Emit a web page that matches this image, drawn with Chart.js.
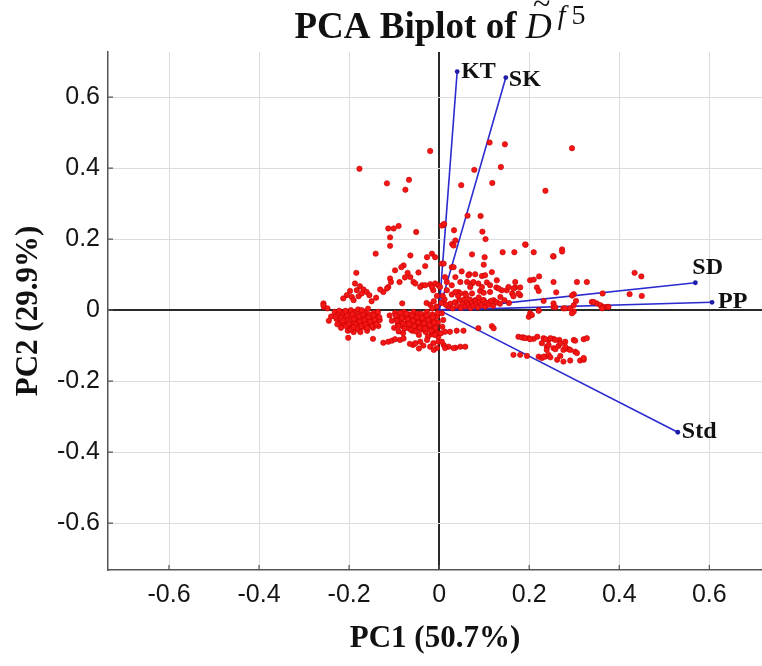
<!DOCTYPE html>
<html>
<head>
<meta charset="utf-8">
<script src="https://cdn.jsdelivr.net/npm/chart.js@4.4.1/dist/chart.umd.min.js"></script>
<style>
  html, body { margin: 0; padding: 0; background: #fff; }
</style>
</head>
<body>
<canvas id="biplot" width="762" height="666"></canvas>
<script>
// observation scores on PC1 / PC2
const scores = [
  [-0.020,0.448],[-0.177,0.398],[-0.116,0.357],[-0.067,0.367],[-0.075,0.339],[-0.113,0.230],[-0.101,0.230],
  [-0.090,0.237],[-0.051,0.220],[-0.109,0.205],[-0.109,0.181],[0.010,0.240],[0.006,0.238],
  [0.112,0.472],[0.146,0.467],[0.295,0.456],[0.078,0.395],[0.137,0.403],[0.049,0.352],[0.118,0.358],
  [0.236,0.336],[0.063,0.266],[0.092,0.265],[0.011,0.243],[0.033,0.225],[0.096,0.221],[0.103,0.200],
  [0.029,0.186],[0.036,0.196],[0.192,0.184],[0.273,0.171],
  [-0.141,0.159],[-0.064,0.154],[-0.016,0.159],[-0.027,0.149],[-0.079,0.126],[-0.084,0.121],[-0.031,0.124],
  [-0.098,0.112],[-0.070,0.105],[-0.046,0.106],[-0.184,0.105],[-0.076,0.092],[-0.064,0.093],[-0.057,0.079],
  [-0.109,0.089],[-0.107,0.079],[-0.113,0.065],[-0.116,0.061],[-0.124,0.051],[-0.131,0.058],[-0.088,0.079],
  [-0.038,0.070],[-0.020,0.073],[-0.013,0.056],[-0.042,0.065],[-0.031,0.070],[-0.053,0.075],
  [-0.009,0.075],[-0.002,0.070],[-0.016,0.065],[0.006,0.131],[-0.009,0.149],[0.028,0.121],[0.013,0.093],
  [0.017,0.079],[0.002,0.065],
  [-0.187,0.075],[-0.176,0.067],[-0.168,0.058],[-0.183,0.056],[-0.198,0.054],[-0.161,0.051],[-0.205,0.042],
  [-0.194,0.037],[-0.179,0.039],[-0.213,0.033],[-0.190,0.028],[-0.172,0.047],[-0.155,0.042],[-0.150,0.025],
  [-0.140,0.035],[-0.082,0.019],[-0.257,0.019],[-0.256,0.009],[-0.257,0.014],
  [-0.020,0.015],[-0.012,0.025],[-0.006,0.010],[-0.015,0.005],[-0.028,0.020],[-0.005,0.040],
  [0.073,0.157],[0.101,0.149],[0.141,0.163],[0.167,0.163],[0.210,0.163],[0.254,0.151],[0.099,0.128],
  [0.050,0.109],[0.117,0.107],[0.067,0.101],[0.080,0.101],[0.095,0.096],[0.062,0.079],[0.073,0.075],
  [0.069,0.065],[0.106,0.078],[0.202,0.084],[0.210,0.086],[0.222,0.095],[0.169,0.064],[0.180,0.064],
  [0.127,0.064],[0.150,0.056],[0.217,0.064],[0.221,0.054],[0.028,0.070],[0.043,0.051],[0.058,0.047],
  [0.073,0.047],[0.091,0.054],[0.099,0.049],[0.113,0.051],[0.028,0.044],[0.017,0.056],[0.162,0.047],
  [0.180,0.042],[0.080,0.028],[0.099,0.028],[0.113,0.023],[0.121,0.028],[0.032,0.182],[0.010,0.131],
  [0.032,0.121],[0.036,0.093],[0.047,0.079],[0.076,0.079],[0.095,0.065],[0.113,0.070],[0.128,0.084],
  [0.139,0.056],[0.154,0.065],[0.165,0.061],[0.169,0.079],[0.065,0.098],[0.102,0.098],[0.087,0.075],
  [0.132,0.061],[0.136,0.037],[0.165,0.039],[0.176,0.047],[0.036,0.051],[0.047,0.047],
  [0.020,0.010],[0.025,0.018],[0.030,0.005],[0.035,0.022],[0.040,0.012],[0.045,0.028],[0.048,0.006],
  [0.052,0.018],[0.055,0.030],[0.058,0.010],[0.062,0.022],[0.065,0.014],[0.068,0.030],[0.070,0.006],
  [0.073,0.020],[0.076,0.012],[0.080,0.026],[0.083,0.017],[0.086,0.008],[0.090,0.022],[0.094,0.014],
  [0.098,0.028],[0.102,0.010],[0.106,0.020],[0.110,0.015],[0.115,0.026],[0.120,0.012],[0.128,0.022],
  [0.135,0.018],[0.145,0.028],[0.155,0.020],[0.042,0.040],[0.060,0.042],[0.088,0.036],[0.012,0.030],
  [0.015,0.015],[0.005,0.020],[0.008,0.040],
  [0.202,-0.009],[0.199,-0.019],[0.206,-0.014],[0.221,0.000],[0.299,-0.004],[0.295,-0.009],[0.276,0.005],
  [0.254,0.009],[0.221,-0.002],[0.280,0.005],[0.291,0.005],[0.299,0.014],[0.254,0.019],[0.258,0.008],
  [0.232,0.026],[0.304,0.026],[0.339,0.023],[0.350,0.019],[0.358,0.014],[0.365,0.009],[0.373,0.009],
  [0.362,0.005],[0.376,0.009],[0.343,0.023],
  [0.434,0.105],[0.449,0.095],[0.423,0.045],[0.450,0.040],[0.363,0.047],[0.306,0.079],[0.328,0.079],
  [0.254,0.079],[0.260,0.050],[0.299,0.045],[0.295,0.041],[0.253,0.152],[0.273,0.165],[0.191,0.185],
  // left cluster below PC1 axis
  [-0.232,-0.005],[-0.225,-0.012],[-0.228,-0.025],[-0.220,-0.035],[-0.215,-0.008],[-0.210,-0.020],
  [-0.212,-0.042],[-0.205,-0.030],[-0.200,-0.010],[-0.198,-0.048],[-0.195,-0.022],[-0.192,-0.035],
  [-0.188,-0.005],[-0.185,-0.015],[-0.183,-0.028],[-0.180,-0.045],[-0.178,-0.055],[-0.175,-0.010],
  [-0.172,-0.022],[-0.170,-0.035],[-0.168,-0.048],[-0.165,-0.005],[-0.162,-0.018],[-0.160,-0.030],
  [-0.158,-0.042],[-0.155,-0.012],[-0.152,-0.025],[-0.150,-0.038],[-0.147,-0.050],[-0.145,-0.008],
  [-0.142,-0.020],[-0.140,-0.032],[-0.137,-0.015],[-0.135,-0.045],[-0.132,-0.028],[-0.218,-0.050],
  [-0.203,-0.058],[-0.190,-0.062],[-0.175,-0.062],[-0.160,-0.058],[-0.222,-0.002],[-0.196,0.000],
  [-0.180,0.002],[-0.158,0.004],[-0.240,-0.018],[-0.245,-0.030],[-0.248,0.005],
  [-0.230,-0.018],[-0.226,-0.040],[-0.218,-0.022],[-0.214,-0.030],[-0.207,-0.045],[-0.204,-0.015],
  [-0.200,-0.038],[-0.196,-0.055],[-0.193,-0.012],[-0.189,-0.025],[-0.186,-0.040],[-0.182,-0.052],
  [-0.178,-0.018],[-0.176,-0.032],[-0.173,-0.045],[-0.169,-0.012],[-0.166,-0.028],[-0.163,-0.040],
  [-0.160,-0.050],[-0.157,-0.020],[-0.153,-0.033],[-0.149,-0.045],[-0.146,-0.015],[-0.143,-0.028],
  [-0.139,-0.040],[-0.136,-0.005],[-0.133,-0.020],[-0.208,-0.002],[-0.172,0.000],[-0.190,-0.048],
  // middle cluster below PC1 axis
  [-0.098,-0.008],[-0.095,-0.022],[-0.092,-0.038],[-0.088,-0.015],[-0.085,-0.030],[-0.082,-0.045],
  [-0.078,-0.005],[-0.075,-0.020],[-0.072,-0.035],[-0.070,-0.050],[-0.068,-0.012],[-0.065,-0.028],
  [-0.062,-0.042],[-0.060,-0.058],[-0.057,-0.005],[-0.055,-0.018],[-0.052,-0.032],[-0.050,-0.048],
  [-0.047,-0.010],[-0.045,-0.025],[-0.042,-0.040],[-0.040,-0.055],[-0.037,-0.015],[-0.035,-0.030],
  [-0.032,-0.045],[-0.030,-0.062],[-0.027,-0.005],[-0.025,-0.020],[-0.022,-0.035],[-0.020,-0.050],
  [-0.017,-0.068],[-0.015,-0.012],[-0.012,-0.028],[-0.010,-0.042],[-0.008,-0.058],[-0.005,-0.018],
  [-0.003,-0.035],[-0.002,-0.075],[-0.105,-0.030],[-0.110,-0.015],[-0.100,-0.050],[-0.090,-0.060],
  [-0.080,-0.065],[-0.025,-0.075],[-0.045,-0.070],
  [-0.096,-0.015],[-0.093,-0.030],[-0.090,-0.045],[-0.086,-0.008],[-0.083,-0.022],[-0.080,-0.038],
  [-0.077,-0.052],[-0.073,-0.010],[-0.070,-0.025],[-0.067,-0.040],[-0.063,-0.055],[-0.060,-0.015],
  [-0.058,-0.030],[-0.055,-0.045],[-0.052,-0.060],[-0.049,-0.020],[-0.046,-0.035],[-0.043,-0.050],
  [-0.040,-0.010],[-0.038,-0.022],[-0.034,-0.038],[-0.031,-0.052],[-0.028,-0.015],[-0.024,-0.028],
  [-0.021,-0.042],[-0.018,-0.058],[-0.014,-0.020],[-0.011,-0.035],[-0.008,-0.050],[-0.005,-0.065],
  [-0.003,-0.008],[-0.010,-0.070],
  [-0.202,-0.078],[-0.147,-0.081],[-0.124,-0.092],[-0.113,-0.089],[-0.105,-0.086],[-0.098,-0.082],
  [-0.087,-0.084],[-0.079,-0.080],[-0.058,-0.098],[-0.053,-0.093],[-0.042,-0.089],[-0.027,-0.084],
  [-0.013,-0.093],[-0.002,-0.089],[0.010,-0.098],[-0.020,-0.103],[-0.005,-0.107],[-0.035,-0.100],
  [-0.065,-0.095],[-0.045,-0.108],[-0.012,-0.112],
  [0.006,-0.009],[0.009,-0.028],[0.007,-0.047],[0.004,-0.065],[0.013,-0.061],[0.024,-0.061],[0.039,-0.058],
  [0.054,-0.058],[0.021,-0.103],[0.036,-0.106],[0.047,-0.103],[0.058,-0.103],[0.013,-0.107],[0.006,-0.089],
  [0.087,-0.051],[0.117,-0.045],[0.121,-0.051],[0.032,-0.107],
  // right cluster below PC1 axis
  [0.176,-0.075],[0.187,-0.077],[0.199,-0.079],[0.210,-0.081],[0.218,-0.075],[0.184,-0.077],[0.191,-0.079],
  [0.202,-0.082],[0.232,-0.079],[0.243,-0.084],[0.254,-0.081],[0.267,-0.084],[0.280,-0.089],[0.299,-0.084],
  [0.321,-0.082],[0.328,-0.079],[0.239,-0.103],[0.254,-0.107],[0.265,-0.101],[0.276,-0.112],[0.287,-0.110],
  [0.302,-0.117],[0.165,-0.126],[0.180,-0.126],[0.195,-0.129],[0.221,-0.131],[0.228,-0.135],[0.236,-0.131],
  [0.243,-0.126],[0.262,-0.140],[0.276,-0.145],[0.291,-0.142],[0.313,-0.142],[0.321,-0.140],
  [0.236,-0.082],[0.247,-0.079],[0.258,-0.084],[0.228,-0.093],[0.243,-0.098],[0.269,-0.093],[0.280,-0.103],
  [0.302,-0.086],[0.239,-0.112],[0.258,-0.110],[0.291,-0.112],[0.232,-0.131],[0.247,-0.133],[0.269,-0.129],
  [0.306,-0.121],[0.321,-0.135]
];

// variable loadings
const variables = ['KT', 'SK', 'SD', 'PP', 'Std'];
const loadingsPC1 = [0.040, 0.148, 0.569, 0.606, 0.530];
const loadingsPC2 = [0.672, 0.655, 0.077, 0.022, -0.344];

const xTickValues = [-0.6, -0.4, -0.2, 0, 0.2, 0.4, 0.6];
const yTickValues = [-0.6, -0.4, -0.2, 0, 0.2, 0.4, 0.6];

const vectorColor = '#2b2bd0';

const datasets = [{
  label: 'scores',
  data: scores.map(p => ({ x: p[0], y: p[1] })),
  pointRadius: 2.7,
  pointBackgroundColor: '#f51616',
  pointBorderColor: '#c40000',
  pointBorderWidth: 0.6,
  showLine: false
}];

variables.forEach((name, i) => {
  datasets.push({
    label: name,
    data: [{ x: 0, y: 0 }, { x: loadingsPC1[i], y: loadingsPC2[i] }],
    showLine: true,
    borderColor: vectorColor,
    borderWidth: 1.6,
    pointRadius: [0, 2.4],
    pointBackgroundColor: '#1c1ca8',
    pointBorderWidth: 0
  });
});

// label offsets for the vector tips
const tipLabel = {
  KT:  { dx: 4,  dy: 0,   align: 'left' },
  SK:  { dx: 3,  dy: 2,   align: 'left' },
  SD:  { dx: -3, dy: -15, align: 'left' },
  PP:  { dx: 6,  dy: -1,  align: 'left' },
  Std: { dx: 4,  dy: 0,   align: 'left' }
};

const biplotText = {
  id: 'biplotText',
  beforeDatasetsDraw(chart) {
    // short inward tick marks on the left and bottom axes
    const c = chart.ctx;
    const { left, bottom } = chart.chartArea;
    c.save();
    c.strokeStyle = '#555';
    c.lineWidth = 1.2;
    c.beginPath();
    xTickValues.forEach(v => {
      const px = chart.scales.x.getPixelForValue(v);
      c.moveTo(px, bottom); c.lineTo(px, bottom - 5);
    });
    yTickValues.forEach(v => {
      const py = chart.scales.y.getPixelForValue(v);
      c.moveTo(left, py); c.lineTo(left + 5, py);
    });
    c.stroke();
    c.restore();
  },
  afterDatasetsDraw(chart) {
    const c = chart.ctx;
    const xs = chart.scales.x, ys = chart.scales.y;
    c.save();
    c.fillStyle = '#111';
    c.textBaseline = 'middle';
    c.font = 'bold 24px "Liberation Serif"';
    variables.forEach((name, i) => {
      const o = tipLabel[name];
      c.textAlign = o.align;
      c.fillText(name, xs.getPixelForValue(loadingsPC1[i]) + o.dx, ys.getPixelForValue(loadingsPC2[i]) + o.dy);
    });

    // title: PCA Biplot of D~^{f5}
    c.textBaseline = 'alphabetic';
    c.textAlign = 'left';
    const main = 'PCA Biplot of ';
    const mainFont = 'bold 37px "Liberation Serif"';
    const symFont = 'italic 36px "Liberation Serif"';
    const supItalic = 'italic 28px "Liberation Serif"';
    const supUpright = '28px "Liberation Serif"';
    c.font = mainFont; const w1 = c.measureText(main).width;
    c.font = symFont; const w2 = c.measureText('D').width;
    c.font = supItalic; const wf = c.measureText('f').width;
    c.font = supUpright; const w5 = c.measureText('5').width;
    let x = 440 - (w1 + w2 + 6 + wf + 6 + w5) / 2;
    const base = 38;
    c.font = mainFont;
    c.fillText(main, x, base);
    x += w1;
    c.font = symFont;
    c.fillText('D', x, base);
    c.font = '32px "Liberation Serif"';
    c.textAlign = 'center';
    c.fillText('~', x + w2 / 2 + 3, base - 24);
    c.textAlign = 'left';
    x += w2 + 6;
    c.font = supItalic;
    c.fillText('f', x, base - 14);
    x += wf + 6;
    c.font = supUpright;
    c.fillText('5', x, base - 14);
    c.restore();
  }
};

const gridColor = ctx => (ctx.tick && ctx.tick.value === 0 ? '#2a2a2a' : '#dcdcdc');
const gridWidth = ctx => (ctx.tick && ctx.tick.value === 0 ? 2 : 1);
const tickFont = { family: '"Liberation Sans", Arial, sans-serif', size: 25 };
const axisTitleFont = { family: '"Liberation Serif", "Times New Roman", serif', size: 31, weight: 'bold' };

const ctx = document.getElementById('biplot').getContext('2d');
const biplotChart = new Chart(ctx, {
  type: 'scatter',
  data: { datasets },
  options: {
    responsive: false,
    animation: false,
    layout: { autoPadding: false, padding: { top: 52, right: 0, left: 0, bottom: 0 } },
    plugins: {
      legend: { display: false },
      tooltip: { enabled: false }
    },
    scales: {
      x: {
        type: 'linear',
        min: -0.7355,
        max: 0.717,
        afterBuildTicks: s => { s.ticks = xTickValues.map(v => ({ value: v })); },
        afterFit: s => { s.height = 96; s.paddingLeft = 0; s.paddingRight = 0; },
        ticks: { font: tickFont, color: '#151515', padding: 10, callback: v => String(v) },
        grid: { color: gridColor, lineWidth: gridWidth, drawTicks: false },
        border: { display: true, color: '#555', width: 1.5 },
        title: { display: true, text: 'PC1 (50.7%)', font: axisTitleFont, color: '#111', padding: { top: 0, bottom: 8 } }
      },
      y: {
        type: 'linear',
        min: -0.732,
        max: 0.727,
        afterBuildTicks: s => { s.ticks = yTickValues.map(v => ({ value: v })); },
        afterFit: s => { s.width = 108; s.paddingTop = 0; s.paddingBottom = 0; },
        ticks: { font: tickFont, color: '#151515', padding: 8, callback: v => String(v) },
        grid: { color: gridColor, lineWidth: gridWidth, drawTicks: false },
        border: { display: true, color: '#555', width: 1.5 },
        title: { display: true, text: 'PC2 (29.9%)', font: axisTitleFont, color: '#111', padding: { top: 10, bottom: 0 } }
      }
    }
  },
  plugins: [biplotText]
});
</script>
</body>
</html>
